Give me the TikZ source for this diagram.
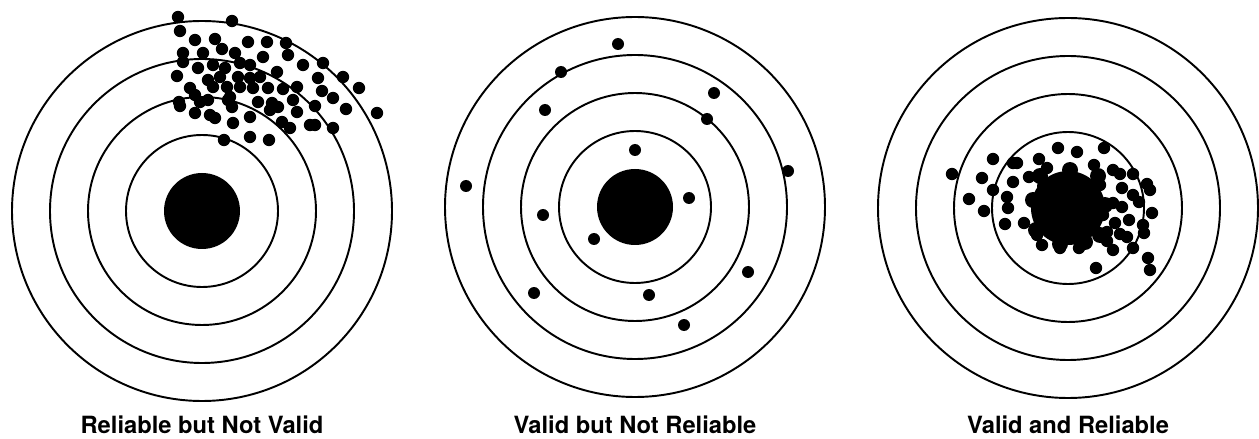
\documentclass[tikz,border=0pt]{standalone}
\usepackage{fontspec}
\setmainfont{TeX Gyre Heros}
\begin{document}
\begin{tikzpicture}[x=0.02cm, y=-0.02cm,
  ring/.style={draw, line width=1.1pt},
  hole/.style={fill=black},
  caption/.style={anchor=base, inner sep=0pt, font=\fontsize{13.5}{16}\selectfont\bfseries}]
\useasboundingbox (0,0) rectangle (1259,439);

\coordinate (c1) at (202,211);
\coordinate (c2) at (635,207);
\coordinate (c3) at (1068,208);

% the three targets
\foreach \c in {c1,c2,c3}
  \foreach \r in {190,152,114,76}
    \draw[ring] (\c) circle[radius=\r];
\fill[hole] (c1) circle[radius=38];
\fill[hole] (c2) circle[radius=38];

% reliable but not valid
\foreach \x/\y in {178/17,180/31,232/21,195/40,215/39,248/42,267/42,286/43,
    183/53,203/53,222/49,235/53,263/57,288/55,
    183/62,198/68,213/65,225/68,240/63,250/65,303/65,323/63,
    177/76,208/80,220/77,238/77,250/78,260/77,277/72,318/78,343/77,
    190/88,213/87,227/87,240/87,253/88,268/88,283/89,297/87,322/91,359/88,
    195/95,208/100,228/100,230/97,200/102,258/102,272/103,293/100,333/98,
    179/102,180/106,232/107,278/107,297/112,315/106,346/109,377/113,
    195/113,210/115,215/118,250/117,270/110,282/122,290/128,233/123,
    310/125,315/125,333/128,250/137,269/140,224/140}
  \fill[hole] (\x,\y) circle[radius=6.2];

% valid but not reliable
\foreach \x/\y in {618/44,561/72,714/93,545/110,707/119,635/150,466/186,788/171,
    689/198,543/215,594/239,748/272,534/293,649/295,684/325}
  \fill[hole] (\x,\y) circle[radius=6];

% valid and reliable
\fill[hole] (c3) circle[radius=37];
\foreach \x/\y in {1040/176,1070/170,1098/176,1033/200,1105/205,1036/230,1100/235,
    1060/244,1085/242,1045/186,1092/190,1050/225,1090/225}
  \fill[hole] (\x,\y) circle[radius=8];
\foreach \x/\y in {952/174,993/159,1013/163,1017/163,1039/159,1047/168,1058/148,
    1077/152,1104/148,1094/165,1113/170,1120/174,1133/174,982/178,1013/182,
    1029/177,993/190,969/199,1007/197,1008/208,984/211,1005/224,1024/223,
    1122/188,1147/184,1150/190,1133/195,1139/202,1113/203,1122/207,1152/213,
    1129/220,1115/223,1143/225,1144/233,1107/232,1120/234,1127/237,1107/241,
    1113/250,1133/248,1042/245,1060/248,1079/248,1096/268,1148/258,1150/270,
    1037/235,1100/185,1103/215}
  \fill[hole] (\x,\y) circle[radius=6.2];

% captions
\node[caption] (l1) at (202,433) {Reliable but Not Valid};
\node[caption] (l2) at (635,433) {Valid but Not Reliable};
\node[caption] (l3) at (1068,433) {Valid and Reliable};
\end{tikzpicture}
\end{document}
